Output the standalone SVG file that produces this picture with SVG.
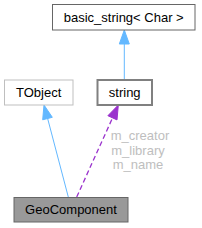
<svg xmlns="http://www.w3.org/2000/svg" width="202" height="228" viewBox="0 0 202 228">
<style>
text{font-family:"Liberation Sans",Arial,sans-serif;font-size:13px;text-anchor:middle;fill:#000}
.lbl{fill:#bebebe}
</style>
<rect width="202" height="228" fill="#fff"/>
<g id="connectors">
<line x1="124.3" y1="79" x2="124.3" y2="43" stroke="#63b8ff" stroke-width="1"/>
<polygon points="124.3,30 119.3,44 129.3,44" fill="#63b8ff" stroke="#63b8ff"/>
<line x1="68.3" y1="197" x2="47.5" y2="118" stroke="#63b8ff" stroke-width="1"/>
<polygon points="44,105 42.7,119.8 52.3,117.3" fill="#63b8ff" stroke="#63b8ff"/>
<line x1="76.7" y1="197" x2="112.5" y2="118" stroke="#9a32cd" stroke-width="1.3" stroke-dasharray="5,3"/>
<polygon points="118.3,105 107.9,115.7 117,119.9" fill="#9a32cd" stroke="#9a32cd"/>
<text class="lbl" x="140" y="140">m_creator</text>
<text class="lbl" x="138" y="155">m_library</text>
<text class="lbl" x="138" y="169">m_name</text>
</g>
<g id="basic_string">
<rect x="52.5" y="4.5" width="142.5" height="25.5" fill="#fff" stroke="#666" stroke-width="1"/>
<text x="123.7" y="21.7">basic_string&lt; Char &gt;</text>
</g>
<g id="TObject">
<rect x="4.5" y="80" width="68.5" height="25" fill="#fff" stroke="#bfbfbf" stroke-width="1"/>
<text x="38.7" y="96.5">TObject</text>
</g>
<g id="string">
<rect x="97.5" y="80" width="54.5" height="25" fill="#fff" stroke="#808080" stroke-width="2"/>
<text x="124.7" y="96.5">string</text>
</g>
<g id="GeoComponent">
<rect x="14" y="197.5" width="114" height="24.5" fill="#999" stroke="#666" stroke-width="1"/>
<text x="71" y="213.5">GeoComponent</text>
</g>
</svg>
